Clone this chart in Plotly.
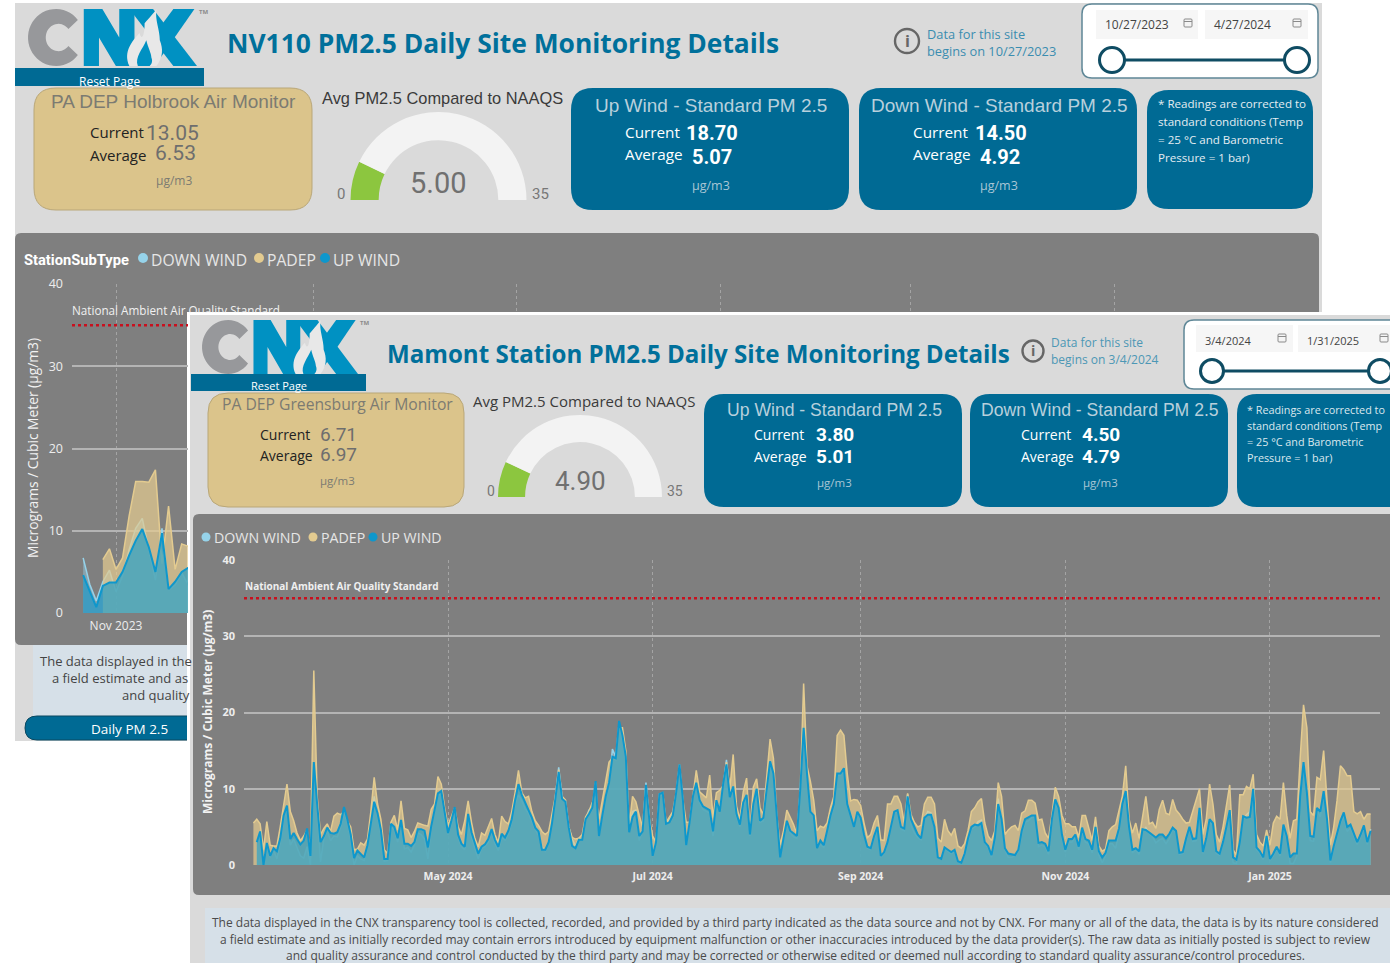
import numpy as np
import pandas as pd
import plotly.graph_objects as go

W, H = 1390, 963
STATION_TYPES = ["DOWN WIND", "PADEP", "UP WIND"]
NAAQS = 35

# ---------- Mamont Station daily values (3/4/2024 - 1/31/2025) ----------
mamont_up = [
 None,3.0,4.4,0.0,2.9,1.2,2.2,1.8,3.5,6.5, 7.8,3.4,4.2,3.4,2.7,3.2,4.8,1.2,13.5,8.0,
 3.0,3.8,4.9,4.2,4.1,4.3,5.4,7.6,6.0,4.0, 0.9,1.9,1.4,1.0,2.6,5.7,8.3,6.8,4.6,0.8,
 0.8,5.4,5.0,3.5,5.9,2.8,2.8,2.5,3.0,4.7, 4.7,4.5,2.3,5.1,7.5,9.4,9.7,6.8,4.2,5.8,
 7.6,4.0,2.8,2.4,6.7,4.3,2.8,1.5,2.4,2.7, 3.4,4.7,3.3,2.4,4.1,3.6,4.5,6.0,8.5,10.6,
 9.2,8.2,7.4,6.2,4.9,4.4,2.0,2.0,3.0,5.5, 8.7,12.2,8.7,8.3,4.9,2.5,2.2,3.3,3.3,6.0,
 6.7,7.5,11.0,3.8,6.5,9.0,10.8,14.2,14.0,18.9, 17.0,14.2,4.3,6.3,7.0,3.8,4.4,10.5,6.0,1.2,
 3.0,9.3,9.5,5.4,5.6,6.5,9.5,13.2,8.6,2.6, 5.6,9.0,10.8,8.5,7.7,7.4,7.2,4.4,8.5,7.0,
 10.6,13.2,8.9,10.3,6.7,5.3,8.2,9.2,4.0,8.0, 10.0,5.8,6.2,10.0,13.6,12.0,6.0,1.0,3.5,5.8,
 4.5,4.2,3.8,10.0,18.0,12.0,7.0,6.5,2.2,3.2, 2.6,4.5,6.5,8.0,12.0,12.0,12.7,8.0,6.5,5.0,
 7.0,6.2,4.0,2.4,2.2,3.8,5.0,1.2,1.7,3.0, 5.0,7.0,7.2,5.0,4.8,9.0,6.0,5.0,4.0,3.5,
 6.2,6.6,6.6,5.0,1.0,0.8,2.3,2.0,1.7,2.0, 0.5,0.3,1.5,3.5,5.0,5.3,5.2,5.5,3.0,2.5,
 1.3,3.6,8.0,6.0,2.2,1.5,1.4,1.3,2.0,4.5, 6.0,6.2,6.5,6.5,2.9,3.0,2.8,1.8,6.0,8.6,
 7.5,4.0,2.0,3.4,3.4,4.0,2.4,4.9,3.4,3.2, 2.0,5.0,1.8,1.0,1.6,3.2,3.2,3.2,4.8,8.0,
 9.7,5.0,2.0,2.2,1.8,4.7,4.6,4.3,4.0,3.6, 4.0,4.0,3.5,4.1,4.9,4.5,1.6,1.7,3.5,5.0,
 3.4,3.5,7.5,1.7,3.5,6.0,5.5,1.8,1.5,3.0, 5.0,7.2,1.0,0.7,3.0,6.4,6.2,6.3,10.0,2.3,
 1.8,1.0,3.8,0.8,1.5,2.4,1.5,5.3,3.8,1.0, 1.5,1.5,9.0,13.5,9.5,3.8,3.7,7.5,7.0,9.7,
 6.0,0.6,2.5,4.0,5.8,6.9,5.0,5.3,4.0,3.0, 4.0,5.2,3.0,4.5]

mamont_padep = [
 5.5,6.0,5.4,2.0,5.7,2.6,2.5,2.5,5.0,8.0, 10.6,7.0,5.8,4.2,3.2,3.8,4.6,1.5,25.5,9.0,
 4.0,4.8,5.4,4.4,6.4,6.8,6.6,7.0,5.8,5.0, 2.0,2.1,2.9,2.6,3.4,7.0,11.5,8.0,6.0,2.0,
 1.5,5.6,6.5,4.6,8.4,4.8,4.6,3.6,4.4,5.5, 5.3,5.2,5.1,7.3,8.0,11.6,10.6,7.5,5.2,6.5,
 7.5,5.0,4.0,5.8,8.4,5.6,3.5,2.4,4.2,3.9, 5.0,6.1,4.0,2.9,6.4,5.7,5.4,7.0,9.5,12.4,
 9.5,8.8,9.0,7.0,5.8,5.2,4.4,4.0,4.4,6.5, 9.0,12.5,9.0,8.5,5.0,3.6,3.4,3.5,4.0,6.3,
 7.0,8.2,9.0,6.0,8.5,11.5,13.5,14.0,13.8,18.0, 18.0,15.0,5.0,9.0,8.3,6.5,5.0,10.5,6.0,3.8,
 3.0,9.3,9.5,5.6,6.3,7.0,9.5,13.2,8.6,5.6, 5.6,9.3,12.4,9.6,9.2,8.8,11.8,6.2,9.5,9.8,
 10.4,13.5,10.0,14.5,7.7,6.0,9.6,11.4,4.5,10.2, 11.3,7.5,6.6,11.6,16.5,14.0,6.5,2.6,4.5,7.2,
 6.2,5.3,4.0,10.0,23.8,13.0,11.0,8.5,4.5,5.1, 4.9,5.5,7.5,9.0,17.0,17.7,17.0,12.0,8.4,8.6,
 8.5,7.8,5.5,3.6,4.0,5.5,6.5,3.3,3.2,8.0, 8.0,9.0,9.0,8.0,5.5,9.4,6.6,5.6,5.0,5.2,
 8.0,8.9,8.9,8.0,3.5,3.0,6.0,4.5,3.9,4.8, 2.5,2.2,2.8,4.5,7.0,7.5,8.3,8.7,5.5,3.8,
 3.2,4.5,10.8,9.0,4.0,4.6,5.0,5.2,4.5,6.8, 7.1,8.5,8.5,8.1,5.9,6.0,4.2,3.5,6.5,10.2,
 9.0,6.5,5.4,5.4,5.0,5.0,3.6,6.5,6.5,5.0, 3.2,6.3,2.5,1.8,2.1,4.5,5.0,5.3,7.0,9.0,
 13.0,6.0,4.2,5.5,3.5,6.0,9.0,5.4,5.6,4.8, 7.3,8.5,6.8,6.6,8.6,7.2,6.7,6.0,5.5,5.6,
 7.0,8.6,10.0,4.0,6.0,10.6,8.0,4.0,3.0,5.0, 8.0,10.5,2.0,1.3,9.2,9.2,10.3,10.0,11.9,4.0,
 3.0,2.5,4.6,2.6,5.5,6.4,6.0,10.8,6.5,3.5, 5.8,6.0,14.0,21.0,18.0,7.0,6.5,11.5,11.2,15.0,
 8.5,2.6,5.0,8.5,13.0,12.5,11.7,11.7,7.0,6.7, 7.0,6.0,6.7,6.7]

mamont_down = [
 None,3.0,4.2,0.0,2.4,1.0,2.0,0.8,3.0,6.0, 7.4,2.6,3.4,2.3,1.2,0.9,2.4,0.0,13.0,7.5,
 0.4,3.5,4.5,3.2,3.8,3.7,4.9,7.2,5.6,3.4, 0.0,1.2,0.8,0.6,2.2,5.4,9.0,6.4,4.0,0.5,
 0.6,5.0,4.6,3.0,5.5,2.1,2.3,1.7,2.6,4.2, 4.0,3.4,0.8,4.7,7.2,9.1,9.4,6.3,4.0,5.4,
 7.2,3.6,2.4,2.0,6.3,3.6,2.2,0.8,2.2,2.4, 3.0,4.3,2.8,1.9,3.6,3.3,4.0,5.6,8.0,9.2,
 8.4,7.4,6.8,5.7,4.6,3.9,2.4,1.8,2.8,5.2, 9.0,12.8,8.9,8.5,5.0,3.4,2.5,3.5,3.3,6.0,
 7.2,7.7,10.8,3.8,6.2,8.7,10.6,15.2,14.2,18.6, 16.5,13.8,4.5,7.0,7.2,3.2,4.6,10.8,6.2,1.4,
 3.1,9.0,9.3,5.6,6.0,6.7,9.2,13.0,8.4,2.5, 5.4,8.8,10.4,8.2,7.3,7.0,6.8,3.8,8.0,7.4,
 10.2,13.8,9.6,9.9,6.3,5.0,7.8,9.0,3.8,7.7, 9.6,5.6,5.8,9.6,13.4,11.6,5.7,1.0,3.2,5.5,
 4.2,3.7,3.5,9.8,17.6,11.6,7.0,6.2,2.3,2.7, 2.3,4.2,6.2,7.6,11.8,11.8,12.4,7.8,6.2,5.0,
 6.8,5.9,3.8,2.2,2.0,3.5,4.8,1.0,1.5,2.8, 4.7,6.8,7.0,4.7,4.5,9.3,5.2,4.2,3.6,3.3,
 6.0,7.0,6.8,4.9,0.9,0.8,2.1,1.8,1.5,1.8, 0.5,0.3,1.3,3.2,4.7,5.0,5.7,5.9,2.9,2.3,
 1.0,3.2,8.7,5.6,2.0,1.0,1.0,1.2,1.8,4.0, 5.6,5.8,6.2,6.4,2.4,2.6,2.4,1.4,5.6,8.2,
 7.2,3.6,1.7,3.0,3.0,3.7,2.0,4.5,3.0,2.8, 1.6,4.7,1.3,0.3,1.2,2.8,2.8,2.2,4.3,7.6,
 9.3,4.6,1.6,2.0,1.4,4.4,4.9,4.1,3.7,2.9, 3.3,3.5,2.8,3.5,4.7,4.2,1.4,1.5,3.2,4.7,
 3.1,3.2,7.0,1.5,3.2,5.7,5.2,1.5,1.3,2.8, 4.7,7.0,0.3,0.2,2.8,6.0,6.6,7.0,9.8,2.0,
 1.5,0.7,3.5,0.6,1.2,2.2,1.2,5.0,3.4,0.2, 0.2,1.2,8.7,13.3,9.0,3.2,3.1,7.2,6.3,9.3,
 5.6,0.3,2.2,3.7,5.5,6.4,4.4,4.9,3.7,2.7, 3.7,4.9,2.7,4.7]

# ---------- NV110 daily values, visible part from 10/27/2023 ----------
nv110_up    = [4.6,2.7,0.7,3.3,3.7,3.7,5.0,7.0,8.8,10.2,8.0,5.0,9.7,2.9,3.8,5.0,5.5,6.0]
nv110_down  = [6.7,3.5,1.5,3.8,5.2,2.6,4.5,7.7,10.3,11.5,7.7,4.0,10.3,2.8,3.4,4.9,3.4,4.0]
nv110_padep = [None,None,None,6.5,7.8,5.3,6.7,11.8,16.0,16.0,15.9,17.4,6.0,13.0,5.3,8.4,8.1,9.0]

mamont_ticks = ["2024-05-01","2024-07-01","2024-09-01","2024-11-01","2025-01-01"]
mamont_tick_text = ["May 2024","Jul 2024","Sep 2024","Nov 2024","Jan 2025"]
nv110_ticks = ["2023-11-01","2023-12-01","2024-01-01","2024-02-01","2024-03-01","2024-04-01"]
y_ticks = [0,10,20,30,40]

# Text read from the cards
nv110_cards = dict(title="NV110 PM2.5 Daily Site Monitoring Details", begin="10/27/2023", end="4/27/2024",
                   monitor="PA DEP Holbrook Air Monitor", padep=("13.05","6.53"), gauge=5.00,
                   up=("18.70","5.07"), down=("14.50","4.92"))
mamont_cards = dict(title="Mamont Station PM2.5 Daily Site Monitoring Details", begin="3/4/2024", end="1/31/2025",
                    monitor="PA DEP Greensburg Air Monitor", padep=("6.71","6.97"), gauge=4.90,
                    up=("3.80","5.01"), down=("4.50","4.79"))
DISCLAIMER = [
 "The data displayed in the CNX transparency tool is collected, recorded, and provided by a third party indicated as the data source and not by CNX. For many or all of the data, the data is by its nature considered",
 "a field estimate and as initially recorded may contain errors introduced by equipment malfunction or other inaccuracies introduced by the data provider(s). The raw data as initially posted is subject to review",
 "and quality assurance and control conducted by the third party and may be corrected or otherwise edited or deemed null according to standard quality assurance/control procedures."]
NOTE = ["* Readings are corrected to","standard conditions (Temp","= 25 °C and Barometric","Pressure = 1 bar)"]

# ---------- colours ----------
PAGE="#DADADA"; PANEL="#7F7F7F"; CARD="#006A94"; TAN="#DBC48B"; PALE="#D6E0E8"
C_PAD="#E3CB90"; C_UP="#0E97CC"; C_DOWN="#96D3EA"
TITLE_BLUE="#00709B"
FONT="Open Sans"; ARIAL="Liberation Sans"; NUM="Roboto"

def X(p): return p/W
def Y(p): return 1-p/H
def rr(x0,y0,x1,y1,r):
    a,b,c,d=X(x0),Y(y0),X(x1),Y(y1); rx,ry=r/W,r/H
    return (f"M{a+rx},{b} L{c-rx},{b} Q{c},{b} {c},{b-ry} L{c},{d+ry} Q{c},{d} {c-rx},{d} "
            f"L{a+rx},{d} Q{a},{d} {a},{d+ry} L{a},{b-ry} Q{a},{b} {a+rx},{b} Z")

shapes=[]; ann=[]
def path(p,fill,line=None,lw=0,layer="below"):
    shapes.append(dict(type="path",xref="paper",yref="paper",path=p,fillcolor=fill,layer=layer,
                       line=dict(color=line or "rgba(0,0,0,0)",width=lw)))
def box(x0,y0,x1,y1,fill,r=0,line=None,lw=0):
    path(rr(x0,y0,x1,y1,r if r else 0.01),fill,line,lw)
def line(x0,y0,x1,y1,color,lw):
    shapes.append(dict(type="line",xref="paper",yref="paper",x0=X(x0),y0=Y(y0),x1=X(x1),y1=Y(y1),
                       line=dict(color=color,width=lw),layer="below"))
def circle(x,y,r,fill,line_c=None,lw=0):
    shapes.append(dict(type="circle",xref="paper",yref="paper",x0=X(x-r),x1=X(x+r),y0=Y(y+r),y1=Y(y-r),
                       fillcolor=fill,line=dict(color=line_c or "rgba(0,0,0,0)",width=lw),layer="below"))
def txt(x,y,s,size,color,anchor="left",font=FONT,bold=False,angle=0):
    ann.append(dict(x=X(x),y=Y(y),xref="paper",yref="paper",text=f"<b>{s}</b>" if bold else s,showarrow=False,
                    xanchor="center" if anchor=="middle" else anchor,yanchor="middle",textangle=angle,
                    align="center" if anchor=="middle" else anchor,
                    font=dict(size=size,color=color,family=font),borderpad=0,borderwidth=0))

def logo(x0,y0,w,h):
    def P(u,v): return f"{X(x0+u*w)},{Y(y0+v*h)}"
    def poly(pts): return "M"+" L".join(P(u,v) for u,v in pts)+" Z"
    # C
    th=np.radians(np.linspace(38,322,40))
    outer=[(0.165+0.165*np.cos(t),0.5-0.5*np.sin(t)) for t in th]
    inner=[(0.18+0.075*np.cos(t),0.5-0.24*np.sin(t)) for t in th[::-1]]
    path(poly(outer+inner),"#97989B")
    blue="#0091C2"
    path(poly([(.33,1),(.33,0),(.44,0),(.54,.5),(.54,0),(.63,0),(.63,1),(.52,1),(.42,.5),(.42,1)]),blue)
    path(poly([(.60,0),(.74,0),(1.0,1),(.86,1)]),blue)
    path(poly([(.86,0),(.985,0),(.75,1),(.61,1)]),blue)
    c=lambda a,b,d:f"C{P(*a)} {P(*b)} {P(*d)}"
    path("M"+P(.60,1)+c((.56,.75),(.62,.55),(.66,.42))+c((.67,.55),(.69,.5),(.69,.25))+c((.72,.15),(.75,.05),(.76,0))
         +c((.75,.2),(.78,.35),(.78,.55))+c((.80,.7),(.80,.85),(.76,1))+"Z","#E8E8E8")
    path("M"+P(.65,1)+c((.63,.85),(.68,.7),(.70,.55))+c((.71,.68),(.73,.78),(.73,.85))+c((.74,.92),(.73,.97),(.72,1))+"Z",blue)
    txt(x0+w+6,y0+3,"TM",6,"#8A8A8A",anchor="middle",bold=True)

def calendar(x,y):
    box(x-4,y-4,x+4,y+4,"#F4F4F4",1,"#8A8A8A",1)
    line(x-4,y-1.5,x+4,y-1.5,"#8A8A8A",1)

def info(x,y,r):
    circle(x,y,r,"rgba(0,0,0,0)","#666666",2.4)
    txt(x,y,"i",r*1.35,"#666666",anchor="middle",bold=True)

# ---------- back dashboard (NV110) ----------
box(15,3,1322,741,PAGE)
logo(28,9,169,57)
box(15,68,204,86,CARD)
txt(110,81,"Reset Page",12,"#FFFFFF",anchor="middle")
txt(227,43,nv110_cards["title"],26.4,TITLE_BLUE,bold=True)
info(907,41,12)
txt(927,34,"Data for this site",12.8,"#3A8DB0"); txt(927,51,"begins on "+nv110_cards["begin"],12.8,"#3A8DB0")
box(1082,4,1318,78,"#FFFFFF",10,"#5F8797",1.5)
box(1096,10,1198,39,"#F6F6F6"); box(1205,10,1308,39,"#F6F6F6")
txt(1105,25,nv110_cards["begin"],12,"#444444"); txt(1214,25,nv110_cards["end"],12,"#444444")
calendar(1188,23); calendar(1297,23)
line(1112,60,1297,60,"#0F4C63",3)
circle(1112,60,12.5,"#FFFFFF","#0F4C63",3); circle(1297,60,12.5,"#FFFFFF","#0F4C63",3)
box(34,88,312,210,TAN,22,"#B9A779",1)
txt(174,101,nv110_cards["monitor"],19,"#7C7B72",anchor="middle",font=ARIAL)
txt(90,132,"Current",15,"#222222",font=FONT); txt(146,133,nv110_cards["padep"][0],21,"#6E6E6E",font=NUM)
txt(90,155,"Average",15,"#222222",font=FONT); txt(155,153,nv110_cards["padep"][1],21,"#6E6E6E",font=NUM)
txt(174,181,"µg/m3",12,"#7C7B72",anchor="middle")
txt(322,98,"Avg PM2.5 Compared to NAAQS",16.4,"#3A3A3A",font=ARIAL)
txt(341,194,"0",15,"#777777",anchor="middle",font=NUM); txt(540,194,"35",15,"#777777",anchor="middle",font=NUM)
txt(438,183,f'{nv110_cards["gauge"]:.2f}',29,"#707070",anchor="middle",font=NUM)
for (x0,x1,tt,cx,lx,nx1,nx2,vals) in [(571,849,"Up Wind - Standard PM 2.5",711,625,686,692,nv110_cards["up"]),
                                      (859,1137,"Down Wind - Standard PM 2.5",999,913,975,980,nv110_cards["down"])]:
    box(x0,88,x1,210,CARD,22)
    txt(cx,106,tt,19,"#B8D0DC",anchor="middle",font=ARIAL)
    txt(lx,132,"Current",15.3,"#FFFFFF"); txt(nx1,133,vals[0],20,"#FFFFFF",font=NUM,bold=True)
    txt(lx,154,"Average",15.3,"#FFFFFF"); txt(nx2,157,vals[1],20,"#FFFFFF",font=NUM,bold=True)
    txt(cx,185,"µg/m3",12.5,"#A9C6D4",anchor="middle")
box(1147,90,1313,209,CARD,22)
for i,s in enumerate(NOTE):
    txt(1158,104+i*17.7,s,11.6,"#E4EDF2")
# back chart panel
box(15,233,1319,645,PANEL,6)
txt(24,260,"StationSubType",14.7,"#FFFFFF",bold=True,font=NUM)
for cx,tx,s,c in [(143,151,STATION_TYPES[0],C_DOWN),(259,267,STATION_TYPES[1],C_PAD),(325,333,STATION_TYPES[2],C_UP)]:
    circle(cx,258,5,c); txt(tx,260,s,15.7,"#E6E6E6")
txt(32,448,"Micrograms / Cubic Meter (µg/m3)",13.8,"#F2F2F2",anchor="middle",angle=-90,bold=False)
box(33,645,195,716,PALE)
for x,y,s in [(40,661,"The data displayed in the"),(52,678,"a field estimate and as"),(122,695,"and quality")]:
    txt(x,y,s,13,"#444444")
box(25,716,240,740,CARD,12,"#0A4860",1)
txt(129,729,"Daily PM 2.5",13.5,"#FFFFFF",anchor="middle")

# ---------- front dashboard (Mamont) ----------
box(187,312,1390,963,"#FFFFFF")
box(190,315,1390,963,PAGE)
logo(202,320,156,54)
box(191,374,366,391,CARD)
txt(279,385,"Reset Page",11,"#FFFFFF",anchor="middle")
txt(387,353,mamont_cards["title"],24.1,TITLE_BLUE,bold=True)
info(1033,351,10.5)
txt(1051,342,"Data for this site",12,"#4C97B5"); txt(1051,359,"begins on "+mamont_cards["begin"],12,"#4C97B5")
box(1184,320,1400,389,"#FFFFFF",10,"#5F8797",1.5)
box(1196,325,1293,352,"#F6F6F6"); box(1298,325,1390,352,"#F6F6F6")
txt(1205,340,mamont_cards["begin"],11,"#444444"); txt(1307,340,mamont_cards["end"],11,"#444444")
calendar(1282,338); calendar(1384,338)
line(1212,371,1380,371,"#0F4C63",3)
circle(1212,371,11.5,"#FFFFFF","#0F4C63",3); circle(1380,371,11.5,"#FFFFFF","#0F4C63",3)
box(208,393,464,507,TAN,20,"#B9A779",1)
txt(337,404,mamont_cards["monitor"],15.7,"#7C7B72",anchor="middle",font=FONT)
txt(260,434,"Current",14,"#222222"); txt(320,435,mamont_cards["padep"][0],19,"#6E6E6E",font=NUM)
txt(260,455,"Average",14,"#222222"); txt(320,454,mamont_cards["padep"][1],19,"#6E6E6E",font=NUM)
txt(337,480,"µg/m3",11.5,"#7C7B72",anchor="middle")
txt(473,401,"Avg PM2.5 Compared to NAAQS",15,"#3A3A3A",font=FONT)
txt(491,491,"0",14,"#777777",anchor="middle",font=NUM); txt(675,491,"35",14,"#777777",anchor="middle",font=NUM)
txt(580,481,f'{mamont_cards["gauge"]:.2f}',26,"#707070",anchor="middle",font=NUM)
for (x0,x1,tt,cx,lx,nx,vals) in [(704,962,"Up Wind - Standard PM 2.5",834,754,816,mamont_cards["up"]),
                                 (970,1228,"Down Wind - Standard PM 2.5",1100,1021,1082,mamont_cards["down"])]:
    box(x0,394,x1,507,CARD,20)
    txt(cx,410,tt,17.6,"#B8D0DC",anchor="middle",font=ARIAL)
    txt(lx,434,"Current",14,"#FFFFFF"); txt(nx,434,vals[0],19,"#FFFFFF",font=NUM,bold=True)
    txt(lx,456,"Average",14,"#FFFFFF"); txt(nx,456,vals[1],19,"#FFFFFF",font=NUM,bold=True)
    txt(cx,483,"µg/m3",11.5,"#A9C6D4",anchor="middle")
box(1237,394,1410,507,CARD,20)
for i,s in enumerate(NOTE):
    txt(1247,409+i*16.3,s,10.8,"#DCE8EE")
# front chart panel
box(193,514,1400,895,PANEL,6)
for cx,tx,s,c in [(206,214,STATION_TYPES[0],C_DOWN),(313,321,STATION_TYPES[1],C_PAD),(373,381,STATION_TYPES[2],C_UP)]:
    circle(cx,537,4.5,c); txt(tx,537,s,14.2,"#E6E6E6")
txt(207,712,"Micrograms / Cubic Meter (µg/m3)",12,"#F2F2F2",anchor="middle",angle=-90,bold=True)
txt(245,586,"National Ambient Air Quality Standard",10,"#EFEFEF",bold=True)
box(205,908,1400,964,PALE)
for y,s in zip([922,939,955],DISCLAIMER):
    txt(795,y,s,12,"#4A4A4A",anchor="middle")

# ---------- charts ----------
fig=go.Figure()
def areas(x,down,padep,up,xa,ya):
    for y,c,rgba,w in [(down,C_DOWN,"rgba(150,211,234,0.45)",1.5),(padep,C_PAD,"rgba(227,203,144,0.72)",1.5),(up,C_UP,"rgba(14,151,204,0.6)",2)]:
        fig.add_trace(go.Scatter(x=x,y=y,mode="lines",fill="tozeroy",fillcolor=rgba,line=dict(color=c,width=w),
                                 connectgaps=False,hoverinfo="skip",showlegend=False,xaxis=xa,yaxis=ya,cliponaxis=True))
def std_line(x,xa,ya,w):
    fig.add_trace(go.Scatter(x=x,y=[NAAQS,NAAQS],mode="lines",line=dict(color="#C8101E",width=w,dash="dot"),
                             hoverinfo="skip",showlegend=False,xaxis=xa,yaxis=ya))
def label(x,y,xa,ya,size):
    fig.add_trace(go.Scatter(x=[x],y=[y],mode="text",text=["National Ambient Air Quality Standard"],textposition="middle right",
                             textfont=dict(size=size,color="#F0F0F0",family=FONT),hoverinfo="skip",showlegend=False,xaxis=xa,yaxis=ya,cliponaxis=True))

mam_dates=pd.date_range("2024-03-04",periods=len(mamont_up))
nv_dates=pd.date_range("2023-10-27",periods=len(nv110_up))
def mam_px(p): return pd.Timestamp("2024-05-01")+pd.Timedelta(days=(p-448)/3.355)
def nv_px(p): return pd.Timestamp("2023-11-01")+pd.Timedelta(days=(p-116)/6.57)

areas(mam_dates,mamont_down,mamont_padep,mamont_up,"x2","y2")
std_line([mam_px(244),mam_px(1380)],"x2","y2",2.5)
areas(nv_dates,nv110_down,nv110_padep,nv110_up,"x","y")
std_line([nv_px(72),nv_px(188)],"x","y",2.5)
label(nv_px(72),(613-312)/8.225,"x","y",11.7)
label(nv_px(72),(613-312)/8.225,"x3","y3",11.7)

layout_axes=dict(
  xaxis=dict(domain=[X(72),X(188)],range=[nv_px(72),nv_px(188)],type="date",tickvals=nv110_ticks,ticktext=["Nov 2023"]+[""]*5,
             showgrid=True,gridcolor="#A4A4A4",griddash="dot",gridwidth=1,tickfont=dict(size=12,color="#EDEDED",family=FONT),
             ticklen=0,ticks="",showline=False,zeroline=False,anchor="y",ticklabelstandoff=4),
  yaxis=dict(domain=[Y(613),Y(284)],range=[0,40],tickvals=y_ticks,gridcolor="#B4B4B4",gridwidth=1.5,zeroline=False,showline=False,
             tickfont=dict(size=12.5,color="#EDEDED",family=FONT),anchor="x",ticklabelstandoff=8),
  xaxis2=dict(domain=[X(244),X(1380)],range=[mam_px(244),mam_px(1380)],type="date",tickvals=mamont_ticks,ticktext=mamont_tick_text,
             showgrid=True,gridcolor="#A4A4A4",griddash="dot",gridwidth=1,tickfont=dict(size=10.5,color="#EDEDED",family=FONT,weight="bold"),
             ticks="",showline=False,zeroline=False,anchor="y2",ticklabelstandoff=3),
  yaxis2=dict(domain=[Y(865),Y(560)],range=[0,40],tickvals=y_ticks,gridcolor="#B4B4B4",gridwidth=2,zeroline=False,showline=False,
             tickfont=dict(size=11,color="#EDEDED",family=FONT,weight="bold"),anchor="x2",ticklabelstandoff=8),
  xaxis3=dict(domain=[X(188),X(1299)],range=[nv_px(188),nv_px(1299)],type="date",tickvals=nv110_ticks,showticklabels=False,
             showgrid=True,gridcolor="#A4A4A4",griddash="dot",gridwidth=1,ticks="",showline=False,zeroline=False,anchor="y3"),
  yaxis3=dict(domain=[Y(312.5),Y(284)],range=[(613-312.5)/8.225,40],tickvals=[40],showticklabels=False,gridcolor="#B4B4B4",
             gridwidth=1.5,zeroline=False,showline=False,anchor="x3"),
)

# gauges: half-doughnut, the hidden half is transparent
for cx,cy,R,hole,val in [(438.5,200,88,0.68,nv110_cards["gauge"]),(580,497,82,0.67,mamont_cards["gauge"])]:
    fig.add_trace(go.Pie(values=[val,35-val,35],rotation=270,sort=False,direction="clockwise",hole=hole,
                         marker=dict(colors=["#8CC63F","#F3F3F3","rgba(0,0,0,0)"],line=dict(width=0)),
                         textinfo="none",hoverinfo="skip",showlegend=False,
                         domain=dict(x=[X(cx-R),X(cx+R)],y=[Y(cy+R),Y(cy-R)])))

fig.update_layout(width=W,height=H,margin=dict(l=0,r=0,t=0,b=0,pad=0,autoexpand=False),paper_bgcolor="#FFFFFF",plot_bgcolor="rgba(0,0,0,0)",
                  showlegend=False,shapes=shapes,annotations=ann,font=dict(family=FONT),**layout_axes)
fig.write_html("out.html",config=dict(displayModeBar=False),
               post_script="document.body.style.margin='0';document.body.style.overflow='hidden';")
